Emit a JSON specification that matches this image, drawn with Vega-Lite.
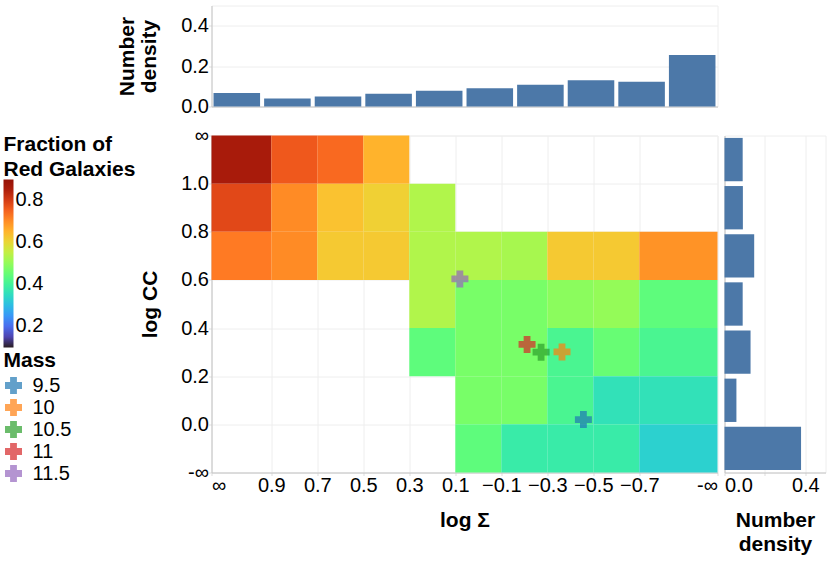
{
  "$schema": "https://vega.github.io/schema/vega-lite/v6.json",
  "padding": {"left": 2.5, "top": 4.5, "right": 4, "bottom": 4},
  "bounds": "flush",
  "spacing": 29,
  "datasets": {
    "heat": [
      {"x0": 1.16, "x1": 0.9, "y0": 1.0, "y1": 1.2, "fraction": 0.855},
      {"x0": 0.9, "x1": 0.7, "y0": 1.0, "y1": 1.2, "fraction": 0.76},
      {"x0": 0.7, "x1": 0.5, "y0": 1.0, "y1": 1.2, "fraction": 0.74},
      {"x0": 0.5, "x1": 0.3, "y0": 1.0, "y1": 1.2, "fraction": 0.65},
      {"x0": 1.16, "x1": 0.9, "y0": 0.8, "y1": 1.0, "fraction": 0.78},
      {"x0": 0.9, "x1": 0.7, "y0": 0.8, "y1": 1.0, "fraction": 0.7},
      {"x0": 0.7, "x1": 0.5, "y0": 0.8, "y1": 1.0, "fraction": 0.63},
      {"x0": 0.5, "x1": 0.3, "y0": 0.8, "y1": 1.0, "fraction": 0.61},
      {"x0": 0.3, "x1": 0.1, "y0": 0.8, "y1": 1.0, "fraction": 0.53},
      {"x0": 1.16, "x1": 0.9, "y0": 0.6, "y1": 0.8, "fraction": 0.72},
      {"x0": 0.9, "x1": 0.7, "y0": 0.6, "y1": 0.8, "fraction": 0.7},
      {"x0": 0.7, "x1": 0.5, "y0": 0.6, "y1": 0.8, "fraction": 0.62},
      {"x0": 0.5, "x1": 0.3, "y0": 0.6, "y1": 0.8, "fraction": 0.62},
      {"x0": 0.3, "x1": 0.1, "y0": 0.6, "y1": 0.8, "fraction": 0.53},
      {"x0": 0.1, "x1": -0.1, "y0": 0.6, "y1": 0.8, "fraction": 0.53},
      {"x0": -0.1, "x1": -0.3, "y0": 0.6, "y1": 0.8, "fraction": 0.52},
      {"x0": -0.3, "x1": -0.5, "y0": 0.6, "y1": 0.8, "fraction": 0.62},
      {"x0": -0.5, "x1": -0.7, "y0": 0.6, "y1": 0.8, "fraction": 0.62},
      {"x0": -0.7, "x1": -1.04, "y0": 0.6, "y1": 0.8, "fraction": 0.69},
      {"x0": 0.3, "x1": 0.1, "y0": 0.4, "y1": 0.6, "fraction": 0.53},
      {"x0": 0.1, "x1": -0.1, "y0": 0.4, "y1": 0.6, "fraction": 0.47},
      {"x0": -0.1, "x1": -0.3, "y0": 0.4, "y1": 0.6, "fraction": 0.47},
      {"x0": -0.3, "x1": -0.5, "y0": 0.4, "y1": 0.6, "fraction": 0.49},
      {"x0": -0.5, "x1": -0.7, "y0": 0.4, "y1": 0.6, "fraction": 0.5},
      {"x0": -0.7, "x1": -1.04, "y0": 0.4, "y1": 0.6, "fraction": 0.44},
      {"x0": 0.3, "x1": 0.1, "y0": 0.2, "y1": 0.4, "fraction": 0.44},
      {"x0": 0.1, "x1": -0.1, "y0": 0.2, "y1": 0.4, "fraction": 0.47},
      {"x0": -0.1, "x1": -0.3, "y0": 0.2, "y1": 0.4, "fraction": 0.47},
      {"x0": -0.3, "x1": -0.5, "y0": 0.2, "y1": 0.4, "fraction": 0.41},
      {"x0": -0.5, "x1": -0.7, "y0": 0.2, "y1": 0.4, "fraction": 0.45},
      {"x0": -0.7, "x1": -1.04, "y0": 0.2, "y1": 0.4, "fraction": 0.41},
      {"x0": 0.1, "x1": -0.1, "y0": 0.0, "y1": 0.2, "fraction": 0.47},
      {"x0": -0.1, "x1": -0.3, "y0": 0.0, "y1": 0.2, "fraction": 0.47},
      {"x0": -0.3, "x1": -0.5, "y0": 0.0, "y1": 0.2, "fraction": 0.41},
      {"x0": -0.5, "x1": -0.7, "y0": 0.0, "y1": 0.2, "fraction": 0.36},
      {"x0": -0.7, "x1": -1.04, "y0": 0.0, "y1": 0.2, "fraction": 0.36},
      {"x0": 0.1, "x1": -0.1, "y0": -0.2, "y1": 0.0, "fraction": 0.44},
      {"x0": -0.1, "x1": -0.3, "y0": -0.2, "y1": 0.0, "fraction": 0.38},
      {"x0": -0.3, "x1": -0.5, "y0": -0.2, "y1": 0.0, "fraction": 0.38},
      {"x0": -0.5, "x1": -0.7, "y0": -0.2, "y1": 0.0, "fraction": 0.38},
      {"x0": -0.7, "x1": -1.04, "y0": -0.2, "y1": 0.0, "fraction": 0.33}
    ],
    "masses": [
      {"mass": "9.5", "sigma": -0.457, "cc": 0.02},
      {"mass": "10", "sigma": -0.364, "cc": 0.301},
      {"mass": "10.5", "sigma": -0.273, "cc": 0.3},
      {"mass": "11", "sigma": -0.212, "cc": 0.332},
      {"mass": "11.5", "sigma": 0.08, "cc": 0.604}
    ],
    "top": [
      {"bin": "a", "density": 0.067},
      {"bin": "b", "density": 0.04},
      {"bin": "c", "density": 0.05},
      {"bin": "d", "density": 0.063},
      {"bin": "e", "density": 0.078},
      {"bin": "f", "density": 0.09},
      {"bin": "g", "density": 0.108},
      {"bin": "h", "density": 0.13},
      {"bin": "i", "density": 0.122},
      {"bin": "j", "density": 0.255}
    ],
    "right": [
      {"bin": "a", "density": 0.09},
      {"bin": "b", "density": 0.091},
      {"bin": "c", "density": 0.147},
      {"bin": "d", "density": 0.09},
      {"bin": "e", "density": 0.129},
      {"bin": "f", "density": 0.059},
      {"bin": "g", "density": 0.379}
    ]
  },
  "vconcat": [
    {
      "width": 506,
      "height": 101,
      "data": {"name": "top"},
      "mark": {"type": "bar", "color": "#4c78a8"},
      "encoding": {
        "x": {
          "field": "bin",
          "type": "ordinal",
          "sort": null,
          "scale": {"paddingInner": 0.08, "paddingOuter": 0.04},
          "axis": {"title": null, "labels": false, "ticks": false, "grid": false}
        },
        "y": {
          "field": "density",
          "type": "quantitative",
          "scale": {"domain": [0, 0.5]},
          "axis": {
            "title": ["Number", "density"],
            "values": [0, 0.2, 0.4],
            "format": ".1f",
            "titlePadding": 21,
            "titleLineHeight": 22
          }
        }
      }
    },
    {
      "bounds": "flush",
      "spacing": 7,
      "hconcat": [
        {
          "width": 506,
          "height": 337,
          "layer": [
            {
              "data": {"name": "heat"},
              "mark": {"type": "rect", "opacity": 0.97},
              "encoding": {
                "x": {
                  "field": "x0",
                  "type": "quantitative",
                  "scale": {"domain": [1.16, -1.04], "nice": false, "zero": false},
                  "axis": {
                    "title": "log Σ",
                    "values": [1.16, 0.9, 0.7, 0.5, 0.3, 0.1, -0.1, -0.3, -0.5, -0.7, -1.04],
                    "labelFlush": true,
                    "labelExpr": "datum.value > 1 ? '∞' : datum.value < -1 ? '-∞' : replace(format(datum.value, '.1f'), '-', '–')",
                    "titlePadding": 14
                  }
                },
                "x2": {"field": "x1"},
                "y": {
                  "field": "y0",
                  "type": "quantitative",
                  "scale": {"domain": [-0.2, 1.2], "nice": false, "zero": false},
                  "axis": {
                    "title": "log CC",
                    "values": [-0.2, 0, 0.2, 0.4, 0.6, 0.8, 1, 1.2],
                    "labelExpr": "datum.value > 1.1 ? '∞' : datum.value < -0.1 ? '-∞' : format(datum.value, '.1f')",
                    "titlePadding": 20
                  }
                },
                "y2": {"field": "y1"},
                "color": {
                  "field": "fraction",
                  "type": "quantitative",
                  "scale": {"scheme": "turbo", "domain": [0.1, 0.895]},
                  "legend": {
                    "title": ["Fraction of", "Red Galaxies"],
                    "values": [0.2, 0.4, 0.6, 0.8],
                    "format": ".1f",
                    "gradientLength": 168,
                    "gradientThickness": 10,
                    "titlePadding": 0,
                    "orient": "none",
                    "legendX": -208,
                    "legendY": -2
                  }
                }
              }
            },
            {
              "data": {"name": "masses"},
              "mark": {"type": "point", "shape": "cross", "filled": true, "size": 289, "opacity": 0.7},
              "encoding": {
                "x": {"field": "sigma", "type": "quantitative"},
                "y": {"field": "cc", "type": "quantitative"},
                "fill": {
                  "field": "mass",
                  "type": "nominal",
                  "scale": {
                    "domain": ["9.5", "10", "10.5", "11", "11.5"],
                    "range": ["#1f77b4", "#ff7f0e", "#2ca02c", "#d62728", "#9467bd"]
                  },
                  "legend": {
                    "title": "Mass",
                    "symbolType": "cross",
                    "symbolSize": 289,
                    "symbolOpacity": 0.7,
                    "symbolStrokeWidth": 0,
                    "rowPadding": 2,
                    "labelOffset": 9,
                    "orient": "none",
                    "legendX": -208,
                    "legendY": 344
                  }
                }
              }
            }
          ],
          "resolve": {"scale": {"color": "independent"}}
        },
        {
          "width": 101,
          "height": 337,
          "data": {"name": "right"},
          "mark": {"type": "bar", "color": "#4c78a8"},
          "encoding": {
            "y": {
              "field": "bin",
              "type": "ordinal",
              "sort": null,
              "scale": {"paddingInner": 0.1, "paddingOuter": 0.05},
              "axis": {"title": null, "labels": false, "ticks": false, "grid": false}
            },
            "x": {
              "field": "density",
              "type": "quantitative",
              "scale": {"domain": [0, 0.5]},
              "axis": {
                "title": ["Number", "density"],
                "values": [0, 0.2, 0.4],
                "labelExpr": "datum.value == 0.2 ? '' : format(datum.value, '.1f')",
                "titlePadding": 14
              }
            }
          }
        }
      ]
    }
  ],
  "config": {
    "font": "Liberation Sans",
    "view": {"stroke": "#eeeeee"},
    "axis": {
      "labelFontSize": 20,
      "titleFontSize": 21,
      "titleFontWeight": "bold",
      "titleLineHeight": 24,
      "labelColor": "#000000",
      "titleColor": "#000000",
      "domainColor": "#c4c4c4",
      "tickColor": "#dddddd",
      "tickSize": 3,
      "labelPadding": 0,
      "gridColor": "#eeeeee"
    },
    "legend": {
      "labelFontSize": 20,
      "titleFontSize": 21,
      "titleFontWeight": "bold",
      "titleLineHeight": 25,
      "labelColor": "#000000",
      "titleColor": "#000000",
      "titleLimit": 200,
      "labelOffset": 2
    }
  }
}
